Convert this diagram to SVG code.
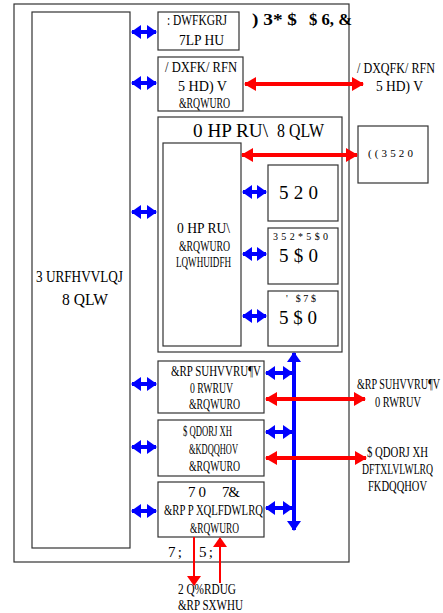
<svg xmlns="http://www.w3.org/2000/svg" width="443" height="613" viewBox="0 0 443 613">
<style>
.box{fill:#fff;stroke:#333;stroke-width:1.2}
.t{font-family:"Liberation Serif","Times New Roman",serif;font-size:15px;fill:#000;text-anchor:middle}
.s{font-size:10px}
.big{font-size:19px}
.tb{font-family:"Liberation Serif","Times New Roman",serif;font-size:16px;font-weight:bold;fill:#000;text-anchor:middle}
.bl{stroke:#0000ff;stroke-width:4;fill:none}
.rd{stroke:#ff0000;stroke-width:4;fill:none}
.rdt{stroke:#ff0000;stroke-width:2;fill:none}
</style>
<defs>
<marker id="bh" markerUnits="userSpaceOnUse" markerWidth="10" markerHeight="14" viewBox="0 0 10 14" refX="9" refY="7" orient="auto-start-reverse"><path d="M0,0 L10,7 L0,14 Z" fill="#0000ff"/></marker>
<marker id="rh" markerUnits="userSpaceOnUse" markerWidth="12" markerHeight="14" viewBox="0 0 12 14" refX="11" refY="7" orient="auto-start-reverse"><path d="M0,0 L12,7 L0,14 Z" fill="#ff0000"/></marker>
<marker id="rs" markerUnits="userSpaceOnUse" markerWidth="10" markerHeight="14" viewBox="0 0 10 14" refX="9" refY="7" orient="auto-start-reverse"><path d="M0,0 L10,7 L0,14 Z" fill="#ff0000"/></marker>
</defs>

<g id="outer"><rect class="box" x="14" y="4" width="335" height="558"/></g>

<g id="processing-unit">
<rect class="box" x="32" y="12" width="98" height="536"/>
<text class="t" x="79.5" y="282" style="font-size:16px" textLength="87" lengthAdjust="spacingAndGlyphs">3 URFHVVLQJ</text>
<text class="t" x="85" y="305" style="font-size:16px" textLength="46" lengthAdjust="spacingAndGlyphs">8 QLW</text>
</g>

<g id="watchdog">
<rect class="box" x="158" y="12" width="81" height="38"/>
<text class="t" x="197" y="25" textLength="60" lengthAdjust="spacingAndGlyphs">:  DWFKGRJ</text>
<text class="t" x="201.5" y="45" textLength="45" lengthAdjust="spacingAndGlyphs">7LP HU</text>
</g>

<g id="fpga-label">
<text class="tb" x="274.5" y="25" textLength="45" lengthAdjust="spacingAndGlyphs">) 3* $</text>
<text class="tb" x="330.5" y="25" textLength="43" lengthAdjust="spacingAndGlyphs">$ 6, &amp;</text>
</g>

<g id="launch-lock">
<rect class="box" x="158" y="57" width="85" height="54"/>
<text class="t" x="201" y="72" textLength="72" lengthAdjust="spacingAndGlyphs">/ DXFK/ RFN</text>
<text class="t" x="202.5" y="91" textLength="49" lengthAdjust="spacingAndGlyphs">5 HD) V</text>
<text class="t" x="204.5" y="108" textLength="51" lengthAdjust="spacingAndGlyphs">&amp;RQWURO</text>
</g>

<g id="launch-lock-ext">
<text class="t" x="396" y="73" textLength="78" lengthAdjust="spacingAndGlyphs">/ DXQFK/ RFN</text>
<text class="t" x="399.5" y="91" textLength="47" lengthAdjust="spacingAndGlyphs">5 HD) V</text>
</g>

<g id="memory-unit">
<rect class="box" x="158" y="117" width="184" height="235"/>
<text class="t" x="230.5" y="137" style="font-size:18px" textLength="75" lengthAdjust="spacingAndGlyphs">0  HP RU\</text>
<text class="t" x="300.5" y="137" style="font-size:18px" textLength="47" lengthAdjust="spacingAndGlyphs">8 QLW</text>
</g>

<g id="mem-ctrl">
<rect class="box" x="163" y="143" width="78" height="203"/>
<text class="t" x="203.5" y="233" textLength="53" lengthAdjust="spacingAndGlyphs">0  HP RU\</text>
<text class="t" x="204.5" y="251" textLength="51" lengthAdjust="spacingAndGlyphs">&amp;RQWURO</text>
<text class="t" x="203.5" y="267" textLength="55" lengthAdjust="spacingAndGlyphs">LQWHUIDFH</text>
</g>

<g id="eeprom">
<rect class="box" x="358" y="126" width="70" height="57"/>
<text class="t" x="390.5" y="157" style="font-size:11px" textLength="45" lengthAdjust="spacing">((3520</text>
</g>

<g id="rom">
<rect class="box" x="268" y="165" width="70" height="56"/>
<text class="t big" x="298.5" y="199" textLength="39" lengthAdjust="spacing">520</text>
</g>

<g id="prog-ram">
<rect class="box" x="268" y="228" width="70" height="56"/>
<text class="t s" x="300.5" y="240" textLength="55" lengthAdjust="spacing">352*5$0</text>
<text class="t big" x="298.5" y="262" textLength="39" lengthAdjust="spacing">5$0</text>
</g>

<g id="data-ram">
<rect class="box" x="268" y="291" width="70" height="55"/>
<text class="t s" x="301" y="302" textLength="30" lengthAdjust="spacing">'  $7$</text>
<text class="t big" x="298" y="324" textLength="38" lengthAdjust="spacing">5$0</text>
</g>

<g id="compressor">
<rect class="box" x="158" y="361" width="106" height="52"/>
<text class="t" x="216" y="376" textLength="90" lengthAdjust="spacingAndGlyphs">&amp;RP SUHVVRU¶V</text>
<text class="t" x="211.5" y="393" textLength="43" lengthAdjust="spacingAndGlyphs">0  RWRUV</text>
<text class="t" x="214.5" y="409" textLength="51" lengthAdjust="spacingAndGlyphs">&amp;RQWURO</text>
</g>

<g id="compressor-ext">
<text class="t" x="398.5" y="389" textLength="83" lengthAdjust="spacingAndGlyphs">&amp;RP SUHVVRU¶V</text>
<text class="t" x="398" y="407" textLength="46" lengthAdjust="spacingAndGlyphs">0  RWRUV</text>
</g>

<g id="analogue">
<rect class="box" x="158" y="420" width="106" height="56"/>
<text class="t" x="207.5" y="436" textLength="49" lengthAdjust="spacingAndGlyphs">$ QDORJ XH</text>
<text class="t" x="213.5" y="454" textLength="49" lengthAdjust="spacingAndGlyphs">&amp;KDQQHOV</text>
<text class="t" x="214.5" y="471" textLength="51" lengthAdjust="spacingAndGlyphs">&amp;RQWURO</text>
</g>

<g id="analogue-ext">
<text class="t" x="397.5" y="457" textLength="61" lengthAdjust="spacingAndGlyphs">$ QDORJ XH</text>
<text class="t" x="397.5" y="474" textLength="71" lengthAdjust="spacingAndGlyphs">DFTXLVLWLRQ</text>
<text class="t" x="397.5" y="491" textLength="59" lengthAdjust="spacingAndGlyphs">FKDQQHOV</text>
</g>

<g id="tmtc">
<rect class="box" x="158" y="482" width="106" height="55"/>
<text class="t" x="197" y="497" textLength="18" lengthAdjust="spacing">70</text>
<text class="t" x="231" y="497" textLength="18" lengthAdjust="spacing">7&amp;</text>
<text class="t" x="213.5" y="515" textLength="99" lengthAdjust="spacingAndGlyphs">&amp;RP P XQLFDWLRQ</text>
<text class="t" x="214.5" y="533" textLength="49" lengthAdjust="spacingAndGlyphs">&amp;RQWURO</text>
</g>

<g id="obc">
<text class="t" x="207" y="594" style="font-size:14px" textLength="58" lengthAdjust="spacingAndGlyphs">2 Q%RDUG</text>
<text class="t" x="210.5" y="610" style="font-size:14px" textLength="65" lengthAdjust="spacingAndGlyphs">&amp;RP SXWHU</text>
</g>

<g id="labels">
<text class="t" x="175" y="557" textLength="14" lengthAdjust="spacing">7;</text>
<text class="t" x="206" y="557" textLength="14" lengthAdjust="spacing">5;</text>
</g>

<g id="connectors">
<line class="bl" x1="132" y1="32" x2="156" y2="32" marker-start="url(#bh)" marker-end="url(#bh)"/>
<line class="bl" x1="132" y1="83" x2="156" y2="83" marker-start="url(#bh)" marker-end="url(#bh)"/>
<line class="bl" x1="132" y1="212" x2="156" y2="212" marker-start="url(#bh)" marker-end="url(#bh)"/>
<line class="bl" x1="132" y1="384" x2="156" y2="384" marker-start="url(#bh)" marker-end="url(#bh)"/>
<line class="bl" x1="132" y1="447" x2="156" y2="447" marker-start="url(#bh)" marker-end="url(#bh)"/>
<line class="bl" x1="132" y1="511" x2="156" y2="511" marker-start="url(#bh)" marker-end="url(#bh)"/>

<line class="bl" x1="243" y1="192" x2="266" y2="192" marker-start="url(#bh)" marker-end="url(#bh)"/>
<line class="bl" x1="243" y1="254" x2="266" y2="254" marker-start="url(#bh)" marker-end="url(#bh)"/>
<line class="bl" x1="243" y1="316" x2="266" y2="316" marker-start="url(#bh)" marker-end="url(#bh)"/>

<line class="bl" x1="294" y1="353" x2="294" y2="530" marker-start="url(#bh)" marker-end="url(#bh)"/>
<line class="bl" x1="266" y1="373" x2="292" y2="373" marker-start="url(#bh)" marker-end="url(#bh)"/>
<line class="bl" x1="266" y1="432" x2="292" y2="432" marker-start="url(#bh)" marker-end="url(#bh)"/>
<line class="bl" x1="266" y1="508" x2="292" y2="508" marker-start="url(#bh)" marker-end="url(#bh)"/>

<line class="rd" x1="245" y1="84" x2="363" y2="84" marker-start="url(#rh)" marker-end="url(#rh)"/>
<line class="rd" x1="242" y1="155" x2="357" y2="155" marker-start="url(#rh)" marker-end="url(#rh)"/>
<line class="rd" x1="266" y1="399" x2="365" y2="399" marker-start="url(#rh)" marker-end="url(#rh)"/>
<line class="rd" x1="266" y1="458" x2="366" y2="458" marker-start="url(#rh)" marker-end="url(#rh)"/>

<line class="rdt" x1="194" y1="537" x2="194" y2="585" marker-end="url(#rs)"/>
<line class="rdt" x1="220" y1="583" x2="220" y2="538" marker-end="url(#rs)"/>
</g>
</svg>
